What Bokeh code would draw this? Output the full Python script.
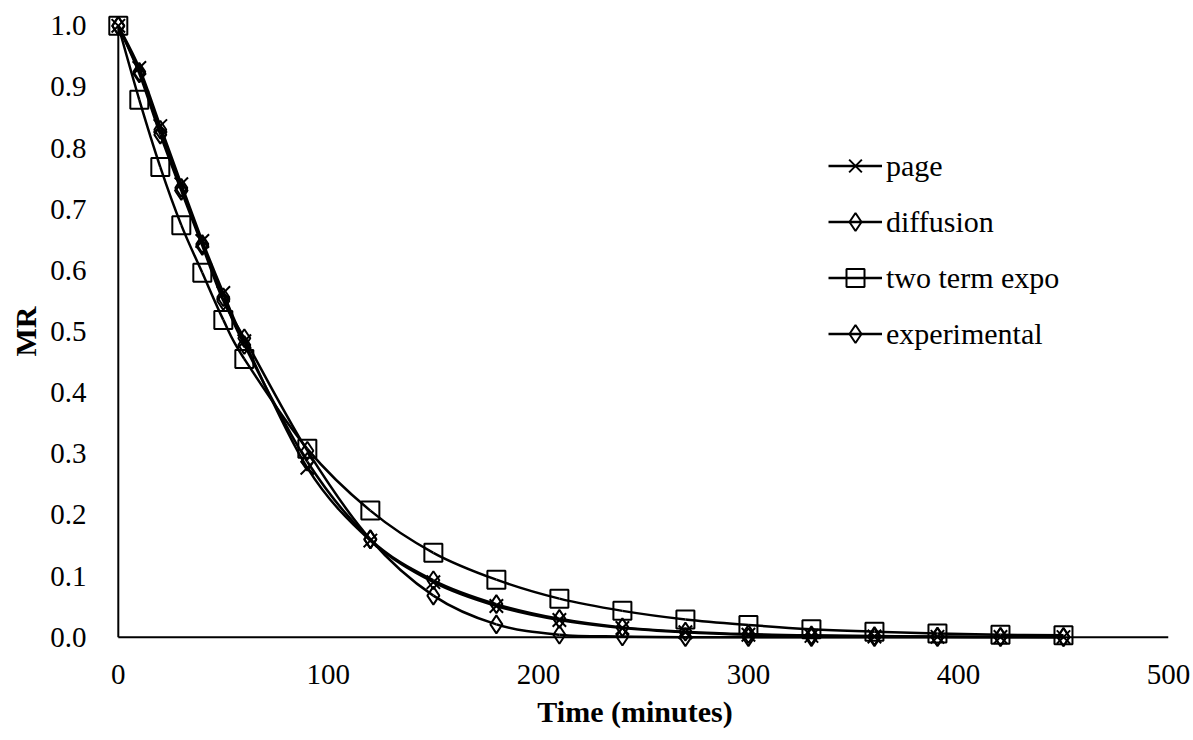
from bokeh.plotting import figure
from bokeh.models import Range1d, FixedTicker, Legend, LegendItem, NumeralTickFormatter
from bokeh.embed import file_html
from bokeh.resources import INLINE

# ---- data ----
time_min = [0, 10, 20, 30, 40, 50, 60, 90, 120, 150, 180, 210, 240, 270, 300, 330, 360, 390, 420, 450]
page = [1.0, 0.931, 0.836, 0.741, 0.648, 0.563, 0.484, 0.277, 0.158, 0.090, 0.051, 0.028,
        0.015, 0.008, 0.004, 0.002, 0.001, 0.0005, 0.0003, 0.0001]
diffusion = [1.0, 0.925, 0.830, 0.735, 0.643, 0.556, 0.478, 0.287, 0.160, 0.093, 0.054, 0.030,
             0.016, 0.009, 0.005, 0.003, 0.002, 0.001, 0.0006, 0.0003]
two_term_expo = [1.0, 0.879, 0.769, 0.674, 0.596, 0.519, 0.455, 0.308, 0.207, 0.138, 0.094, 0.063,
                 0.043, 0.029, 0.020, 0.013, 0.009, 0.006, 0.004, 0.003]
experimental = [1.0, 0.922, 0.822, 0.730, 0.640, 0.550, 0.489, 0.305, 0.160, 0.068, 0.021, 0.004,
                0.001, 0.0, 0.0, 0.0, 0.0, 0.0, 0.0, 0.0]

x_ticks = [0, 100, 200, 300, 400, 500]
y_ticks = [0.0, 0.1, 0.2, 0.3, 0.4, 0.5, 0.6, 0.7, 0.8, 0.9, 1.0]
x_min, x_max = 0, 500
y_min, y_max = 0.0, 1.0

FONT = "Liberation Serif"

p = figure(frame_width=1067, frame_height=648,
           min_border_left=101, min_border_right=25, min_border_top=7, min_border_bottom=85,
           x_range=Range1d(-8, 500), y_range=Range1d(-0.03, 1.03),
           output_backend="svg", toolbar_location=None, background_fill_color="white",
           border_fill_color="white", outline_line_color=None)
p.grid.visible = False

for ax in (p.xaxis[0], p.yaxis[0]):
    ax.axis_line_color = None
    ax.major_tick_line_color = None
    ax.minor_tick_line_color = None
    ax.major_label_text_font = FONT
    ax.major_label_text_font_size = "29px"
    ax.major_label_text_color = "black"
    ax.axis_label_text_font = FONT
    ax.axis_label_text_font_size = "30px"
    ax.axis_label_text_font_style = "bold"
    ax.axis_label_text_color = "black"

p.xaxis.ticker = FixedTicker(ticks=x_ticks)
p.yaxis.ticker = FixedTicker(ticks=y_ticks)
p.yaxis.formatter = NumeralTickFormatter(format="0.0")
p.xaxis.axis_label = "Time (minutes)"
p.yaxis.axis_label = "MR"
p.xaxis.major_label_standoff = 3
p.yaxis.major_label_standoff = 9
p.xaxis.axis_label_standoff = 8
p.yaxis.axis_label_standoff = 5

# axis lines at x=0 and y=0
p.segment(x0=[x_min, x_min], y0=[y_min, y_min], x1=[x_min, x_max], y1=[y_max, y_min],
          line_color="black", line_width=2)


def smooth(xs, ys):
    """Bezier control points (Catmull-Rom style) through the data points."""
    x0, y0, x1, y1, cx0, cy0, cx1, cy1 = [], [], [], [], [], [], [], []
    n = len(xs)
    for i in range(n - 1):
        pa = (xs[max(i - 1, 0)], ys[max(i - 1, 0)])
        pb = (xs[i], ys[i])
        pc = (xs[i + 1], ys[i + 1])
        pd = (xs[min(i + 2, n - 1)], ys[min(i + 2, n - 1)])
        x0.append(pb[0]); y0.append(pb[1]); x1.append(pc[0]); y1.append(pc[1])
        cx0.append(pb[0] + (pc[0] - pa[0]) / 6); cy0.append(pb[1] + (pc[1] - pa[1]) / 6)
        cx1.append(pc[0] - (pd[0] - pb[0]) / 6); cy1.append(pc[1] - (pd[1] - pb[1]) / 6)
    return dict(x0=x0, y0=y0, x1=x1, y1=y1, cx0=cx0, cy0=cy0, cx1=cx1, cy1=cy1)


series = [
    ("page", page, "x", 19),
    ("diffusion", diffusion, "diamond", 18),
    ("two term expo", two_term_expo, "square", 18),
    ("experimental", experimental, "diamond", 18),
]

items = []
for name, ys, marker, size in series:
    bz = p.bezier(line_color="black", line_width=2.5, **smooth(time_min, ys))
    sc = p.scatter(time_min, ys, marker=marker, size=size, fill_color=None,
                   line_color="black", line_width=2)
    items.append(LegendItem(label=name, renderers=[bz, sc]))

legend = Legend(items=items, location=(727, 299), orientation="vertical",
                label_text_font=FONT, label_text_font_size="30px", label_text_color="black",
                glyph_width=54, glyph_height=45, label_standoff=4,
                spacing=11, padding=0, margin=0, border_line_color=None,
                background_fill_alpha=0)
p.add_layout(legend, "center")

open("out.html", "w").write(file_html(p, INLINE))
